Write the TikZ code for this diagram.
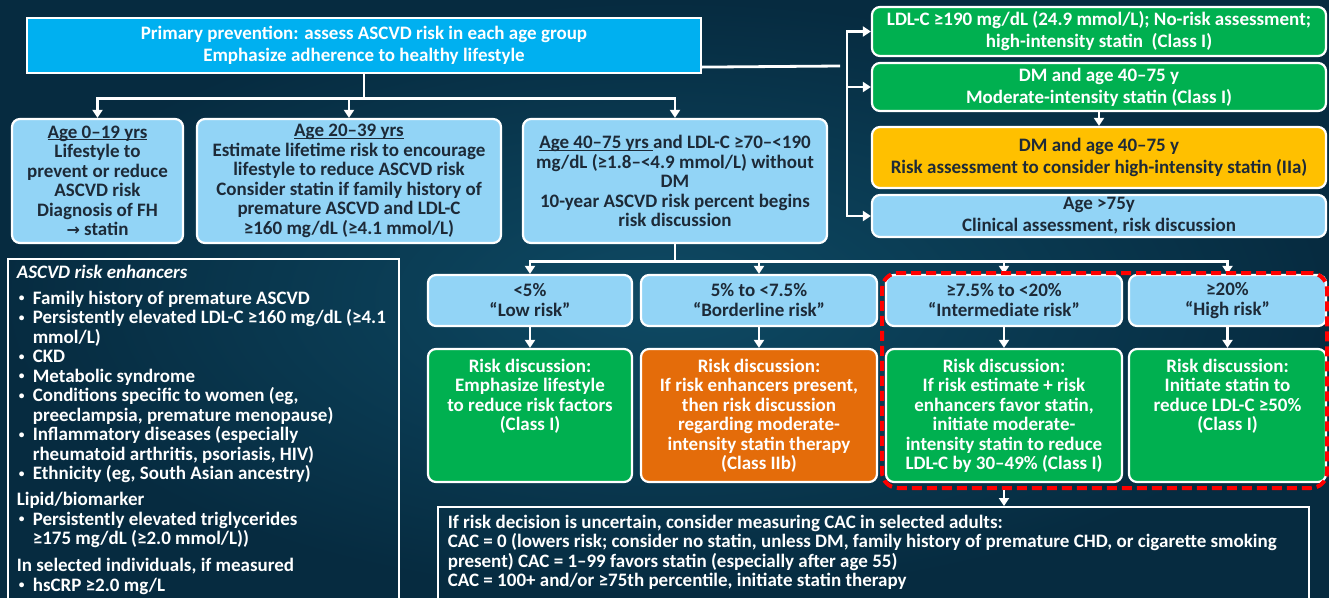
\documentclass[tikz,border=0pt]{standalone}
\usepackage{fontspec}
\usepackage{graphicx}
\setmainfont{Carlito}
\newfontfamily\dvs{DejaVu Sans}
\usetikzlibrary{arrows.meta}
\definecolor{bgin}{HTML}{0E4A64}
\definecolor{bgout}{HTML}{062B40}
\definecolor{topblue}{HTML}{00B0F0}
\definecolor{lblue}{HTML}{92D4F6}
\definecolor{dgreen}{HTML}{00B050}
\definecolor{orng}{HTML}{E46C0A}
\definecolor{yel}{HTML}{FFC000}
\definecolor{dtext}{HTML}{1D2A38}
\newcommand\tb[3]{\begin{minipage}[c][#1pt][t]{#2pt}\centering\rule{0pt}{23pt}#3\end{minipage}}
\newcommand\bul{\hspace*{2pt}\makebox[14pt][l]{\raisebox{0.3ex}{\scalebox{0.6}{•}}}}
\newcommand\bl[1]{\mbox{\bul #1}}
\newcommand\ind[1]{\mbox{\hspace*{16pt}#1}}
\newsavebox\ulbox
\newcommand\ulin[1]{\sbox\ulbox{#1}\rlap{\rule[-2pt]{\wd\ulbox}{1.1pt}}\usebox\ulbox}
\begin{document}
\begin{tikzpicture}[x=1pt,y=-1pt,
  every node/.style={font=\bfseries\fontsize{19}{19.5}\selectfont, inner sep=0pt},
  box/.style={draw=white, line width=2.2pt, rounded corners=8pt, align=center},
  dbox/.style={draw=white, line width=2.2pt, rounded corners=8pt},
  lb/.style={box, fill=lblue, text=dtext},
  gb/.style={box, fill=dgreen, text=white},
  yb/.style={box, fill=yel, text=dtext},
  rb/.style={font=\bfseries\fontsize{19}{22}\selectfont},
  rowb/.style={font=\bfseries\fontsize{19}{20}\selectfont},
  conn/.style={draw=white, line width=2.8pt},
  to/.style={-{Triangle[length=8pt,width=10pt]}},
  both/.style={{Triangle[length=8pt,width=10pt]}-{Triangle[length=8pt,width=10pt]}}]
\useasboundingbox (0,0) rectangle (1329,597);
\shade[inner color=bgin, outer color=bgout] (0,0) rectangle (1329,597);
\begin{scope}
\clip (0,0) rectangle (1329,597);
% top box
\node[box, sharp corners, fill=topblue, text=white, rb, minimum width=674pt, minimum height=55pt] (top) at (364,45.5)
  {Primary prevention: assess ASCVD risk in each age group\\Emphasize adherence to healthy lifestyle};
% age boxes
\node[lb, minimum width=171pt, minimum height=124pt] (a019) at (97.5,181)
  {\ulin{Age 0–19 yrs}\\Lifestyle to\\prevent or reduce\\ASCVD risk\\Diagnosis of FH\\{\dvs\bfseries\fontsize{16}{19.5}\selectfont →} statin};
\node[lb, minimum width=304pt, minimum height=124pt] (a2039) at (349,181)
  {\ulin{Age 20–39 yrs}\\Estimate lifetime risk to encourage\\lifestyle to reduce ASCVD risk\\Consider statin if family history of\\premature ASCVD and LDL-C\\≥160 mg/dL (≥4.1 mmol/L)};
\node[lb, minimum width=304pt, minimum height=124pt] (a4075) at (675,181)
  {\ulin{Age 40–75 yrs }and LDL-C ≥70–<190\\mg/dL (≥1.8–<4.9 mmol/L) without\\DM\\10-year ASCVD risk percent begins\\risk discussion};
% right boxes
\node[gb, rb, minimum width=454pt, minimum height=49pt] (r1) at (1099,31.5)
  {LDL-C ≥190 mg/dL (24.9 mmol/L); No-risk assessment;\\high-intensity statin \ (Class I)};
\node[gb, rb, minimum width=454pt, minimum height=48pt] (r2) at (1099,87)
  {DM and age 40–75 y\\Moderate-intensity statin (Class I)};
\node[yb, rb, minimum width=454pt, minimum height=61pt] (r3) at (1099,157.5)
  {DM and age 40–75 y\\Risk assessment to consider high-intensity statin (IIa)};
\node[lb, rb, minimum width=454pt, minimum height=42pt] (r4) at (1099,216)
  {Age >75y\\Clinical assessment, risk discussion};
% risk row
\node[lb, rowb, minimum width=204pt, minimum height=51pt] (low) at (530,300.5) {<5\%\\“Low risk”};
\node[lb, rowb, minimum width=236pt, minimum height=51pt] (bord) at (759,300.5) {5\% to <7.5\%\\“Borderline risk”};
\node[lb, rowb, minimum width=236pt, minimum height=51pt] (inter) at (1004,300.5) {≥7.5\% to <20\%\\“Intermediate risk”};
\node[lb, rowb, minimum width=197pt, minimum height=51pt] (high) at (1227.5,300.5) {≥20\%\\“High risk”};
% decision row
\node[dbox, fill=dgreen, text=white] (lowD) at (530,415.5)
  {\tb{133}{204}{Risk discussion:\\Emphasize lifestyle\\to reduce risk factors\\(Class I)}};
\node[dbox, fill=orng, text=white] (bordD) at (759,415.5)
  {\tb{133}{236}{Risk discussion:\\If risk enhancers present,\\then risk discussion\\regarding moderate-\\intensity statin therapy\\(Class IIb)}};
\node[dbox, fill=dgreen, text=white] (interD) at (1004,415.5)
  {\tb{133}{236}{Risk discussion:\\If risk estimate + risk\\enhancers favor statin,\\initiate moderate-\\intensity statin to reduce\\LDL-C by 30–49\% (Class I)}};
\node[dbox, fill=dgreen, text=white] (highD) at (1227.5,415.5)
  {\tb{133}{197}{Risk discussion:\\Initiate statin to\\reduce LDL-C ≥50\%\\(Class I)}};
% enhancers box
\node[draw=white, line width=1.6pt, anchor=north west, inner xsep=9pt, inner ysep=0pt, text=white] (enh) at (7,258)
  {\begin{minipage}[t][380pt][t]{373pt}\raggedright\rule{0pt}{19.5pt}\textit{ASCVD risk enhancers}\\[6.5pt]
  \bl{Family history of premature ASCVD}\\
  \bl{Persistently elevated LDL-C ≥160 mg/dL (≥4.1}\\
  \ind{mmol/L)}\\
  \bl{CKD}\\
  \bl{Metabolic syndrome}\\
  \bl{Conditions specific to women (eg,}\\
  \ind{preeclampsia, premature menopause)}\\
  \bl{Inflammatory diseases (especially}\\
  \ind{rheumatoid arthritis, psoriasis, HIV)}\\
  \bl{Ethnicity (eg, South Asian ancestry)}\\[6.5pt]
  Lipid/biomarker\\
  \bl{Persistently elevated triglycerides}\\
  \ind{≥175 mg/dL (≥2.0 mmol/L))}\\[7.5pt]
  In selected individuals, if measured\\
  \bl{hsCRP ≥2.0 mg/L}
  \end{minipage}};
% CAC box
\node[draw=white, line width=1.6pt, anchor=north west, inner xsep=10pt, inner ysep=0pt, text=white] (cac) at (437,506)
  {\begin{minipage}[t][110pt][t]{851pt}\raggedright\rule{0pt}{21.5pt}If risk decision is uncertain, consider measuring CAC in selected adults:\\
  \mbox{CAC = 0 (lowers risk; consider no statin, unless DM, family history of premature CHD, or cigarette smoking}\\
  present) CAC = 1–99 favors statin (especially after age 55)\\
  CAC = 100+ and/or ≥75th percentile, initiate statin therapy\end{minipage}};
% connectors
\path (top.south) ++(0,24) coordinate (hub);
\draw[conn] (top.south) -- (hub);
\draw[conn, both] (a019.north) |- (hub) -| (a4075.north);
\draw[conn, to] (a2039.north |- hub) -- (a2039.north);
\path (top.south east) ++(0,-7) coordinate (tx);
\coordinate (tj) at (840,66);
\draw[conn] (tx) -- (tj);
\coordinate (vt) at (847,31.5);
\coordinate (vb) at (847,216);
\draw[conn, both] (vt -| r1.west) -- (vt) -- (vb) -- (vb -| r4.west);
\draw[conn, to] (vt |- r2.west) -- (r2.west);
\draw[conn, to] (r2.south) -- (r3.north);
\path (a4075.south) ++(0,17) coordinate (hub2);
\draw[conn] (a4075.south) -- (hub2);
\draw[conn, both] (low.north) |- (hub2) -| (high.north);
\draw[conn, to] (bord.north |- hub2) -- (bord.north);
\draw[conn, to] (inter.north |- hub2) -- (inter.north);
\draw[conn, to] (low.south) -- (lowD.north);
\draw[conn, to] (bord.south) -- (bordD.north);
\draw[conn, to] (inter.south) -- (interD.north);
\draw[conn, to] (high.south) -- (highD.north);
% highlight
\node[draw=red, line width=4pt, dash pattern=on 10pt off 5pt, rounded corners=16pt, minimum width=445pt, minimum height=215pt] (hl) at (1104.5,380.5) {};
\draw[conn, to] (hl.south -| interD.south) -- (cac.north -| interD.south);
\end{scope}
\end{tikzpicture}
\end{document}
